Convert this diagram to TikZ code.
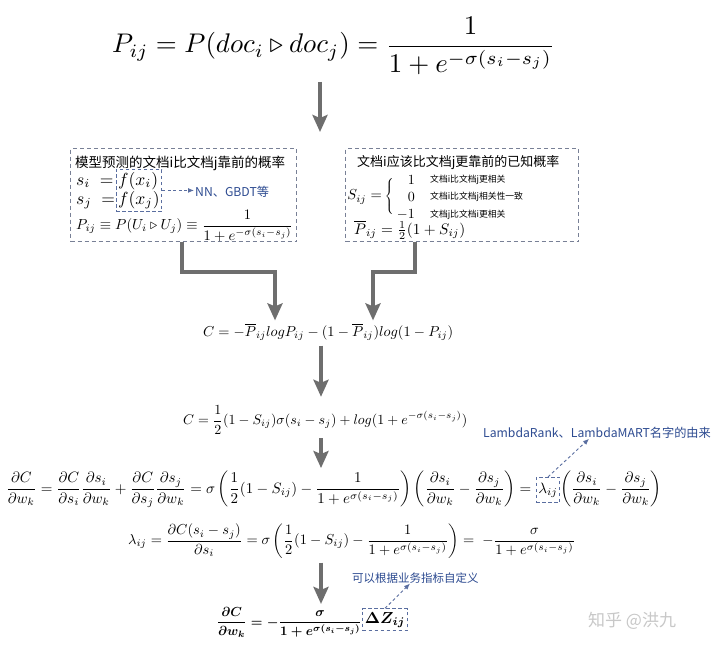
\documentclass[tikz,border=0pt]{standalone}
\usepackage{amsmath}
\usepackage{fontspec}
\usetikzlibrary{arrows.meta,fit,calc}
\newfontfamily\cjk{Noto Sans CJK SC}
\definecolor{arrowgray}{RGB}{110,110,110}
\definecolor{boxgray}{RGB}{120,128,150}
\definecolor{innerblue}{RGB}{90,110,160}
\definecolor{labelblue}{RGB}{45,75,145}
\definecolor{wmgray}{RGB}{200,200,200}
\newcommand{\rowk}{1.5}
\tikzset{
  bigarrow/.style={draw=arrowgray, line width=4pt, -{Stealth[length=17pt,width=15pt,inset=3pt]}},
  outerbox/.style={draw=boxgray, dash pattern=on 4pt off 3pt, line width=1pt, inner sep=0pt},
  innerbox/.style={draw=innerblue, dash pattern=on 3.5pt off 2.5pt, line width=1pt},
  notearrow/.style={draw=innerblue, dash pattern=on 3pt off 2.5pt, line width=0.9pt, -{Latex[length=6pt,width=5pt]}},
  formula/.style={inner sep=0pt},
  note/.style={inner sep=0pt, text=labelblue, font=\cjk\fontsize{12.2}{14}\selectfont},
  head/.style={inner sep=0pt, font=\cjk\fontsize{13.5}{16}\selectfont},
  smalltxt/.style={inner sep=0pt, font=\cjk\fontsize{8.8}{10}\selectfont},
}
\begin{document}
\begin{tikzpicture}[x=1pt,y=-1pt]
\fill[white] (0,0) rectangle (720,653);
\useasboundingbox (0,0) rectangle (720,653);

% top formula
\node[formula, anchor=west] (top) at (112,46) {\resizebox{443pt}{!}{$\displaystyle P_{ij}=P(doc_i \triangleright doc_j)=\frac{1}{1+e^{-\sigma(s_i-s_j)}}$}};
\coordinate (a1end) at (320,132);
\draw[bigarrow, shorten <=7pt] (top.south -| a1end) -- (a1end);

% left box
\node[outerbox, minimum width=226pt, minimum height=93pt, anchor=north west] (lbox) at (70,148) {};
\node[head, anchor=west] (lhead) at (75,163) {模型预测的文档i比文档j靠前的概率};
\node[formula, anchor=base west] (si) at (76,185) {\scalebox{1.75}{$s_i\;=$}};
\node[formula, anchor=base west] (fxi) at (118,185) {\scalebox{1.75}{$f(x_i)$}};
\node[formula, anchor=base west] (sj) at (76,204) {\scalebox{1.75}{$s_j\;=$}};
\node[formula, anchor=base west] (fxj) at (118,204) {\scalebox{1.75}{$f(x_j)$}};
\node[innerbox, fit=(fxi)(fxj), inner sep=2pt] (fbox) {};
\node[note, anchor=west] (nn) at (195,192) {NN、GBDT等};
\draw[notearrow, shorten >=1pt] (fbox.east) -- (fbox.east -| nn.west);
\node[formula, anchor=west] (pl) at (76,226) {\resizebox{217pt}{!}{$P_{ij}\equiv P(U_i\triangleright U_j)\equiv\dfrac{1}{1+e^{-\sigma(s_i-s_j)}}$}};

% right box
\node[outerbox, minimum width=233pt, minimum height=93pt, anchor=north west] (rbox) at (345,148) {};
\node[head, anchor=west, font=\cjk\fontsize{13}{16}\selectfont] (rhead) at (357,163) {文档i应该比文档j更靠前的已知概率};
\node[formula, anchor=east] (sij) at (382,197) {\scalebox{1.45}{$S_{ij}=$}};
\node[formula] (brace) at (390,197) {$\left\{\rule[-17pt]{0pt}{34pt}\right.$};
\node[formula, anchor=east] (v1) at (415,180) {\scalebox{1.4}{$1$}};
\node[formula, anchor=east] (v0) at (415,197) {\scalebox{1.4}{$0$}};
\node[formula, anchor=east] (vm) at (415,215) {\scalebox{1.4}{$-1$}};
\node[smalltxt, anchor=west] (t1) at (430,180) {文档i比文档j更相关};
\node[smalltxt, anchor=west] (t0) at (430,197) {文档i比文档j相关性一致};
\node[smalltxt, anchor=west] (tm) at (430,215) {文档j比文档i更相关};
\node[formula, anchor=west] (pbar) at (354,230) {\resizebox{111pt}{!}{$\overline{P}_{ij}=\tfrac{1}{2}(1+S_{ij})$}};

% row 1
\node[formula, anchor=west] (c1) at (203,332) {\resizebox{250pt}{!}{$C=-\overline{P}_{ij}log P_{ij}-(1-\overline{P}_{ij})log(1-P_{ij})$}};

% elbow arrows
\coordinate (lx) at (182,0);
\coordinate (lturn) at (275,272);
\coordinate (rx) at (415,0);
\coordinate (rturn) at (373,272);
\draw[bigarrow, shorten >=3pt] (lx |- lbox.south) |- (lturn) -- (lturn |- c1.north);
\draw[bigarrow, shorten >=3pt] (rx |- rbox.south) |- (rturn) -- (rturn |- c1.north);

% row 2
\node[formula, anchor=west] (c2) at (183,420) {\resizebox{284pt}{!}{$\displaystyle C=\frac{1}{2}(1-S_{ij})\sigma(s_i-s_j)+log(1+e^{-\sigma(s_i-s_j)})$}};
\coordinate (ax) at (321,0);
\draw[bigarrow, shorten <=5pt, shorten >=9pt] (ax |- c1.south) -- (ax |- c2.north);

% row 3
\node[formula, anchor=base] (lam) at (548,493) {\scalebox{\rowk}{$\lambda_{ij}$}};
\node[innerbox, fit=(lam), inner xsep=2pt, inner ysep=5pt] (lambox) {};
\node[formula, anchor=base east] (r3a) at (lambox.west |- lam.base) {\scalebox{\rowk}{$\displaystyle \frac{\partial C}{\partial w_k}=\frac{\partial C}{\partial s_i}\frac{\partial s_i}{\partial w_k}+\frac{\partial C}{\partial s_j}\frac{\partial s_j}{\partial w_k}=\sigma\left(\frac{1}{2}(1-S_{ij})-\frac{1}{1+e^{\sigma(s_i-s_j)}}\right)\left(\frac{\partial s_i}{\partial w_k}-\frac{\partial s_j}{\partial w_k}\right)={}$}};
\node[formula, anchor=base west] (r3c) at (lambox.east |- lam.base) {\scalebox{\rowk}{$\displaystyle\left(\frac{\partial s_i}{\partial w_k}-\frac{\partial s_j}{\partial w_k}\right)$}};
\draw[bigarrow, shorten <=4pt, shorten >=3pt] (ax |- c2.south) -- (ax |- r3a.north);

\node[note, anchor=west] (lbl1) at (483,433) {LambdaRank、LambdaMART名字的由来};
\coordinate (lx2) at (589,0);
\draw[notearrow] (lambox.north) -- (lbl1.south -| lx2);

% row 4
\node[formula, anchor=west] (r4) at (128,541) {\resizebox{447pt}{!}{$\displaystyle \lambda_{ij}=\frac{\partial C(s_i-s_j)}{\partial s_i}=\sigma\left(\frac{1}{2}(1-S_{ij})-\frac{1}{1+e^{\sigma(s_i-s_j)}}\right)=\;-\frac{\sigma}{1+e^{\sigma(s_i-s_j)}}$}};

% row 5
\node[formula, anchor=base] (dz) at (385,623) {\scalebox{1.6}{\boldmath$\Delta Z_{ij}$}};
\node[innerbox, fit=(dz), inner xsep=2pt, inner ysep=3pt] (dzbox) {};
\coordinate (r5base) at (0,626);
\node[formula, anchor=base east] (r5) at (dzbox.west |- r5base) {\scalebox{1.31}{\boldmath$\displaystyle\frac{\partial C}{\partial w_k}=-\frac{\sigma}{1+e^{\sigma(s_i-s_j)}}$}};
\draw[bigarrow, shorten <=4pt, shorten >=3pt] (ax |- r4.south) -- (ax |- r5.north);

\node[note, anchor=west, font=\cjk\fontsize{11.5}{13}\selectfont] (lbl2) at (352,578) {可以根据业务指标自定义};
\coordinate (lx3) at (410,0);
\draw[notearrow] (dzbox.north) -- (lbl2.south -| lx3);

% watermark
\node[inner sep=0pt, text=wmgray, font=\cjk\fontsize{17}{20}\selectfont, anchor=west] (wm) at (588,621) {知乎 @洪九};
\end{tikzpicture}
\end{document}
